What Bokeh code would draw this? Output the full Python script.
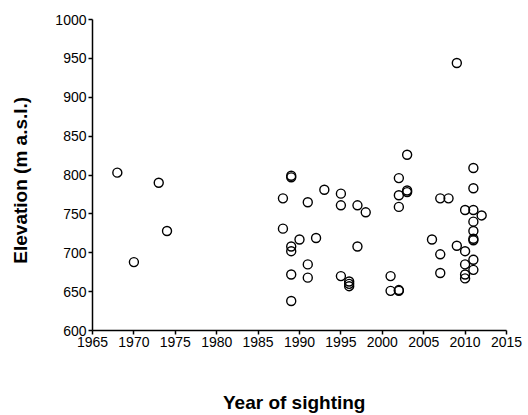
from bokeh.plotting import figure
from bokeh.models import FixedTicker, Range1d
from bokeh.embed import file_html
from bokeh.resources import INLINE

years = [1968, 1970, 1973, 1974,
         1988, 1988,
         1989, 1989, 1989, 1989, 1989, 1989,
         1990,
         1991, 1991, 1991,
         1992, 1993,
         1995, 1995, 1995,
         1996, 1996, 1996,
         1997, 1997, 1998,
         2001, 2001,
         2002, 2002, 2002, 2002, 2002,
         2003, 2003, 2003,
         2006,
         2007, 2007, 2007,
         2008,
         2009, 2009,
         2010, 2010, 2010, 2010, 2010,
         2011, 2011, 2011, 2011, 2011, 2011, 2011, 2011, 2011,
         2012]
elevations = [803, 688, 790, 728,
              770, 731,
              797, 799, 708, 702, 672, 638,
              717,
              765, 685, 668,
              719, 781,
              776, 761, 670,
              663, 660, 657,
              761, 708, 752,
              670, 651,
              796, 774, 759, 652, 651,
              826, 780, 778,
              717,
              770, 698, 674,
              770,
              944, 709,
              755, 702, 685, 672, 667,
              809, 783, 755, 740, 728, 718, 716, 691, 678,
              748]

x_ticks = [1965, 1970, 1975, 1980, 1985, 1990, 1995, 2000, 2005, 2010, 2015]
y_ticks = [600, 650, 700, 750, 800, 850, 900, 950, 1000]

p = figure(width=528, height=415, output_backend="svg", toolbar_location=None,
           x_range=Range1d(1965, 2015), y_range=Range1d(600, 1000),
           min_border_left=92, min_border_right=22, min_border_top=19,
           min_border_bottom=84)
p.outline_line_color = None
p.xgrid.visible = False
p.ygrid.visible = False
p.background_fill_color = "white"
p.border_fill_color = "white"

p.scatter(years, elevations, marker="circle", size=9, fill_color="white",
          fill_alpha=0, line_color="black", line_width=1.4)

FONT = "Liberation Sans"
for ax in (p.xaxis[0], p.yaxis[0]):
    ax.axis_line_color = "black"
    ax.axis_line_width = 1.5
    ax.major_tick_line_color = "black"
    ax.major_tick_line_width = 1.5
    ax.major_tick_in = 0
    ax.major_tick_out = 4
    ax.minor_tick_line_color = None
    ax.major_label_text_font = FONT
    ax.major_label_text_font_size = "14px"
    ax.major_label_text_color = "black"
    ax.major_label_standoff = 2
    ax.axis_label_text_font = FONT
    ax.axis_label_text_font_style = "bold"
    ax.axis_label_text_font_size = "19px"
    ax.axis_label_text_color = "black"

p.xaxis.ticker = FixedTicker(ticks=x_ticks)
p.yaxis.ticker = FixedTicker(ticks=y_ticks)
p.xaxis.axis_label = "Year  of  sighting"
p.yaxis.axis_label = "Elevation  (m  a.s.l.)"
p.xaxis.axis_label_standoff = 42
p.yaxis.axis_label_standoff = 21

open("out.html", "w").write(file_html(p, INLINE))
